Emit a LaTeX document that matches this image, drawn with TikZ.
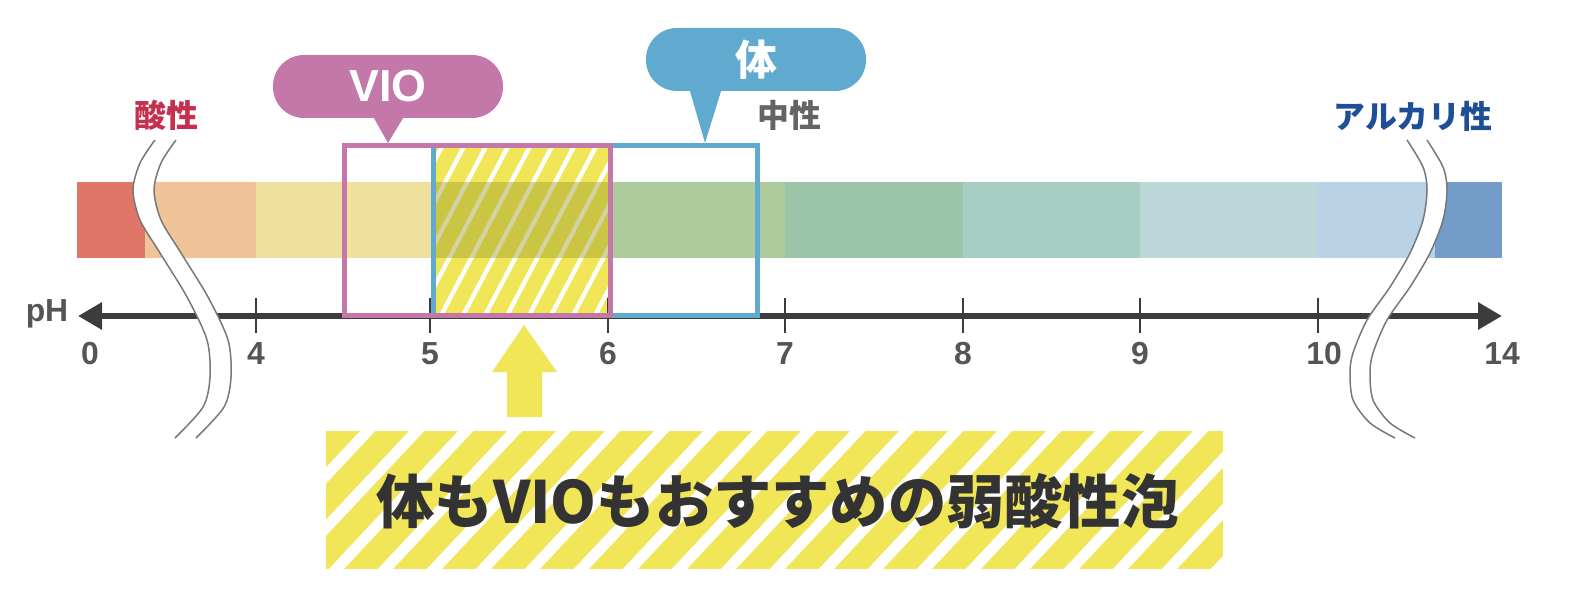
\documentclass[tikz,border=0pt]{standalone}
\usepackage{fontspec}
\setmainfont{Liberation Sans}
\newfontfamily\jpfont{Noto Sans CJK JP}
\usetikzlibrary{arrows.meta}

\definecolor{viopink}{RGB}{196,120,170}
\definecolor{bodyblue}{RGB}{96,170,207}
\definecolor{acidred}{RGB}{196,48,78}
\definecolor{alkblue}{RGB}{30,78,150}
\definecolor{neutralgray}{RGB}{100,100,100}
\definecolor{axisgray}{RGB}{60,60,60}
\definecolor{numgray}{RGB}{85,85,85}
\definecolor{breakgray}{RGB}{120,120,120}
\definecolor{hatchyellow}{RGB}{240,230,88}
\definecolor{olivetint}{RGB}{158,157,45}
\definecolor{textdark}{RGB}{51,51,51}
\definecolor{ph0}{RGB}{224,118,104}
\definecolor{ph1}{RGB}{240,196,152}
\definecolor{ph2}{RGB}{239,224,158}
\definecolor{ph3}{RGB}{173,203,157}
\definecolor{ph4}{RGB}{155,196,169}
\definecolor{ph5}{RGB}{168,205,195}
\definecolor{ph6}{RGB}{188,215,216}
\definecolor{ph7}{RGB}{186,210,229}
\definecolor{ph8}{RGB}{116,156,200}

\begin{document}
\begin{tikzpicture}[x=1bp, y=-1bp,
    every node/.style={inner sep=0pt},
    phnum/.style={font=\bfseries\fontsize{32}{32}\selectfont, text=numgray},
    sidelabel/.style={font=\jpfont\bfseries\fontsize{32}{32}\selectfont},
    bubblebox/.style={rounded corners=31bp, minimum height=63bp, text=white},
    rangebox/.style={line width=5bp},
    tickmark/.style={line width=1.5bp, draw=axisgray},
    breakline/.style={line width=1.5bp, draw=breakgray}]

    \useasboundingbox (0,0) rectangle (1575,597);

    % pH colour bar
    \fill[ph0] (77,182) rectangle (145,258);
    \fill[ph1] (145,182) rectangle (256,258);
    \fill[ph2] (256,182) rectangle (608,258);
    \fill[ph3] (608,182) rectangle (785,258);
    \fill[ph4] (785,182) rectangle (963,258);
    \fill[ph5] (963,182) rectangle (1140,258);
    \fill[ph6] (1140,182) rectangle (1318,258);
    \fill[ph7] (1318,182) rectangle (1435,258);
    \fill[ph8] (1435,182) rectangle (1502,258);

    % hatched range 5-6
    \begin{scope}
        \clip (433,145) rectangle (611,315);
        \fill[hatchyellow] (433,145) rectangle (611,315);
        \foreach \k in {-1,...,12}
            \draw[white, line width=4.3bp] (348+22*\k,325) -- ++(100,-190);
        \fill[olivetint, opacity=0.45] (433,182) rectangle (611,258);
    \end{scope}

    % pH axis
    \coordinate (axisleft) at (78,316);
    \coordinate (axisright) at (1502,316);
    \draw[axisgray, line width=6bp, {Triangle[length=24bp,width=26bp]}-{Triangle[length=24bp,width=26bp]}] (axisleft) -- (axisright);
    \foreach \x in {256,430,608,785,963,1140,1318}
        \draw[tickmark] (\x,298) -- (\x,333);
    \node[phnum] (phlabel) at (47,314) {pH};
    \foreach \x/\t in {90/0,256/4,430/5,608/6,785/7,963/8,1140/9,1324/10,1502/14}
        \node[phnum] (num\t) at (\x,354) {\t};

    % range boxes
    \draw[rangebox, bodyblue] (433.5,145.5) rectangle (757.5,315.5);
    \draw[rangebox, viopink] (344.5,145.5) rectangle (610.5,315.5);

    % VIO bubble
    \node[bubblebox, fill=viopink, minimum width=230bp, font=\bfseries\fontsize{45}{45}\selectfont] (viobubble) at (388,86.5) {VIO};
    \coordinate (viotip) at (388,143);
    \fill[viopink] ([xshift=-14bp]viobubble.south) -- ([xshift=15bp]viobubble.south) -- (viotip) -- cycle;

    % body bubble
    \node[bubblebox, fill=bodyblue, minimum width=220bp, font=\jpfont\bfseries\fontsize{42}{42}\selectfont] (bodybubble) at (756,59.5) {体};
    \coordinate (bodytip) at (705,143);
    \fill[bodyblue] ([xshift=-66bp]bodybubble.south) -- ([xshift=-35bp]bodybubble.south) -- (bodytip) -- cycle;

    % side labels
    \node[sidelabel, text=acidred] (acid) at (166,115) {酸性};
    \node[sidelabel, text=neutralgray] (neutral) at (789,115) {中性};
    \node[sidelabel, text=alkblue] (alkali) at (1413,116) {アルカリ性};

    % left break
    \fill[white] plot[smooth] coordinates {(155,140) (140,163) (133,190) (140,220) (160,253) (187,297) (207,340) (210,377) (203,407) (175,438)}
        -- plot[smooth] coordinates {(196,438) (224,407) (231,377) (228,340) (208,297) (181,253) (161,220) (154,190) (161,163) (176,140)} -- cycle;
    \draw[breakline] plot[smooth] coordinates {(155,140) (140,163) (133,190) (140,220) (160,253) (187,297) (207,340) (210,377) (203,407) (175,438)};
    \draw[breakline] plot[smooth] coordinates {(176,140) (161,163) (154,190) (161,220) (181,253) (208,297) (228,340) (231,377) (224,407) (196,438)};

    % right break
    \fill[white] plot[smooth] coordinates {(1407,140) (1423,167) (1427,190) (1423,220) (1410,253) (1390,287) (1367,320) (1353,353) (1350,373) (1353,400) (1370,423) (1395,438)}
        -- plot[smooth] coordinates {(1415,438) (1390,423) (1373,400) (1370,373) (1373,353) (1387,320) (1410,287) (1430,253) (1443,220) (1447,190) (1443,167) (1427,140)} -- cycle;
    \draw[breakline] plot[smooth] coordinates {(1407,140) (1423,167) (1427,190) (1423,220) (1410,253) (1390,287) (1367,320) (1353,353) (1350,373) (1353,400) (1370,423) (1395,438)};
    \draw[breakline] plot[smooth] coordinates {(1427,140) (1443,167) (1447,190) (1443,220) (1430,253) (1410,287) (1387,320) (1373,353) (1370,373) (1373,400) (1390,423) (1415,438)};

    % pointer arrow
    \fill[hatchyellow] (507,417) -- (507,372) -- (492,372) -- (524,325) -- (557,372) -- (542,372) -- (542,417) -- cycle;

    % banner
    \begin{scope}
        \clip (326,431) rectangle (1223,569);
        \fill[hatchyellow] (326,431) rectangle (1223,569);
        \foreach \k in {0,...,22}
            \draw[white, line width=11bp] (130+49*\k,580) -- ++(150,-160);
    \end{scope}
    \node[font=\jpfont\bfseries\fontsize{58.5}{58.5}\selectfont, text=textdark] (slogan) at (778,501) {体もVIOもおすすめの弱酸性泡};

\end{tikzpicture}
\end{document}
